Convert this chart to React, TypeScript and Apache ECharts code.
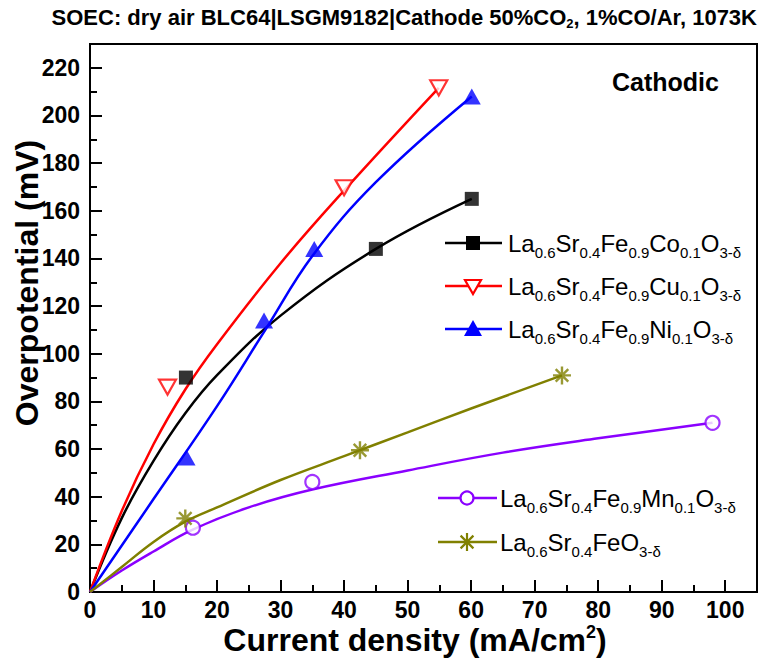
import React, { useEffect, useRef } from 'react';
import * as echarts from 'echarts';

const FONT = "'Liberation Sans', Arial, Helvetica, sans-serif";

// Axis settings
const X_MIN = 0, X_MAX = 105, X_MAJOR = 10, X_MINOR = 5;
const Y_MIN = 0, Y_MAX = 230, Y_MAJOR = 20, Y_MINOR = 10;

// Measured points (markers)
const coX = [15.1, 45, 60.1];
const coY = [90, 144, 165];
const cuX = [12.2, 40, 54.9];
const cuY = [86, 169.7, 211.6];
const niX = [15.2, 27.4, 35.3, 60.1];
const niY = [56.5, 114, 144, 208];
const mnX = [16.2, 35, 98];
const mnY = [27, 46.2, 71];
const feX = [15, 42.5, 74.3];
const feY = [30.9, 59.5, 90.9];

// Fitted curves
const coFitX = [0, 5, 10, 15, 20, 30, 45, 60.1];
const coFitY = [0, 31, 55, 75, 91, 116, 144, 165];
const cuFitX = [0, 5, 10, 15, 20, 30, 40, 54.9];
const cuFitY = [0, 34, 62, 85, 104, 138, 168.5, 211.6];
const niFitX = [0, 10, 20, 27.6, 35, 45, 60.1];
const niFitY = [0, 39, 78, 110, 141, 172, 208];
const mnFitX = [0, 5, 10, 16, 25, 35, 50, 65, 80, 98];
const mnFitY = [0, 9, 17, 26, 35.5, 43, 51, 58.5, 64.5, 71];
const feFitX = [0, 5, 10, 15, 20, 30, 40, 50, 60, 74.3];
const feFitY = [0, 10.5, 21, 29.5, 35.5, 47, 57, 67, 77, 90.9];

const zip = (xs: number[], ys: number[]) => xs.map((x, i) => [x, ys[i]]);

const BLACK = '#000000';
const RED = '#ff0000';
const BLUE = '#0000ff';
const PURPLE = '#8a00ff';
const OLIVE = '#808000';

const STAR_PATH = 'path://M10,0 L10,20 M0,10 L20,10 M3,3 L17,17 M3,17 L17,3';

const legendRich = {
  m: { fontSize: 24, fontFamily: FONT, color: '#000' },
  s: { fontSize: 15, fontFamily: FONT, color: '#000', padding: [18, 0, 0, 0] },
};

function legendMarker(kind: string, color: string, cx: number, cy: number): any {
  if (kind === 'square') {
    return { type: 'rect', shape: { x: cx - 7, y: cy - 7, width: 14, height: 14 }, style: { fill: color } };
  }
  if (kind === 'tridown') {
    return {
      type: 'polygon',
      shape: { points: [[cx - 8, cy - 6], [cx + 8, cy - 6], [cx, cy + 8]] },
      style: { fill: '#fff', stroke: color, lineWidth: 2.2 },
    };
  }
  if (kind === 'triup') {
    return {
      type: 'polygon',
      shape: { points: [[cx - 9, cy + 7], [cx + 9, cy + 7], [cx, cy - 9]] },
      style: { fill: color },
    };
  }
  if (kind === 'circle') {
    return { type: 'circle', shape: { cx, cy, r: 6.5 }, style: { fill: '#fff', stroke: color, lineWidth: 2.2 } };
  }
  const r = 9;
  const d = 6.4;
  return {
    type: 'group',
    children: [
      { type: 'line', shape: { x1: cx, y1: cy - r, x2: cx, y2: cy + r }, style: { stroke: color, lineWidth: 2.2 } },
      { type: 'line', shape: { x1: cx - d, y1: cy - d, x2: cx + d, y2: cy + d }, style: { stroke: color, lineWidth: 2.2 } },
      { type: 'line', shape: { x1: cx - d, y1: cy + d, x2: cx + d, y2: cy - d }, style: { stroke: color, lineWidth: 2.2 } },
    ],
  };
}

function legendEntry(x1: number, x2: number, mx: number, tx: number, y: number, color: string, kind: string, text: string): any[] {
  return [
    { type: 'line', shape: { x1, y1: y, x2, y2: y }, style: { stroke: color, lineWidth: 2.5 }, z: 10 },
    { ...legendMarker(kind, color, mx, y), z: 11 },
    {
      type: 'text',
      x: tx,
      y,
      z: 11,
      style: { text, rich: legendRich, align: 'left', verticalAlign: 'middle' },
    },
  ];
}

export default function App() {
  const ref = useRef<HTMLDivElement>(null);
  useEffect(() => {
    if (!ref.current) return;
    const chart = echarts.init(ref.current, null, { renderer: 'svg' });

    const fitLine = (xs: number[], ys: number[], color: string) => ({
      type: 'line',
      data: zip(xs, ys),
      smooth: 0.4,
      showSymbol: false,
      symbol: 'none',
      silent: true,
      lineStyle: { color, width: 2.5 },
      z: 2,
    });

    const option: any = {
      animation: false,
      backgroundColor: '#fff',
      grid: { left: 90, top: 44, right: 10, bottom: 68, show: true, borderColor: '#000', borderWidth: 2, backgroundColor: 'transparent' },
      xAxis: [
        {
          type: 'value', min: X_MIN, max: X_MAX, interval: X_MAJOR, position: 'bottom',
          axisLine: { show: true, lineStyle: { color: '#000', width: 2 } },
          axisTick: { show: true, inside: true, length: 12, lineStyle: { color: '#000', width: 2 } },
          axisLabel: { showMaxLabel: false, color: '#000', fontFamily: FONT, fontWeight: 'bold', fontSize: 23, margin: 6 },
          splitLine: { show: false },
        },
        {
          type: 'value', min: X_MIN, max: X_MAX, interval: X_MINOR, position: 'bottom', offset: 0,
          axisLine: { show: false },
          axisTick: { show: true, inside: true, length: 7, lineStyle: { color: '#000', width: 2 } },
          axisLabel: { show: false },
          splitLine: { show: false },
        },
      ],
      yAxis: [
        {
          type: 'value', min: Y_MIN, max: Y_MAX, interval: Y_MAJOR, position: 'left',
          axisLine: { show: true, lineStyle: { color: '#000', width: 2 } },
          axisTick: { show: true, inside: true, length: 12, lineStyle: { color: '#000', width: 2 } },
          axisLabel: { showMaxLabel: false, color: '#000', fontFamily: FONT, fontWeight: 'bold', fontSize: 23, margin: 10 },
          splitLine: { show: false },
        },
        {
          type: 'value', min: Y_MIN, max: Y_MAX, interval: Y_MINOR, position: 'left', offset: 0,
          axisLine: { show: false },
          axisTick: { show: true, inside: true, length: 7, lineStyle: { color: '#000', width: 2 } },
          axisLabel: { show: false },
          splitLine: { show: false },
        },
      ],
      series: [
        fitLine(coFitX, coFitY, BLACK),
        fitLine(cuFitX, cuFitY, RED),
        fitLine(niFitX, niFitY, BLUE),
        fitLine(mnFitX, mnFitY, PURPLE),
        fitLine(feFitX, feFitY, OLIVE),
        {
          type: 'scatter', data: zip(coX, coY), symbol: 'rect', symbolSize: 14,
          itemStyle: { color: BLACK }, z: 3,
        },
        {
          type: 'scatter', data: zip(cuX, cuY), symbol: 'triangle', symbolRotate: 180, symbolSize: [17, 15],
          itemStyle: { color: '#fff', borderColor: RED, borderWidth: 2.2 }, z: 3,
        },
        {
          type: 'scatter', data: zip(niX, niY), symbol: 'triangle', symbolSize: [18, 16],
          itemStyle: { color: BLUE }, z: 3,
        },
        {
          type: 'scatter', data: zip(mnX, mnY), symbol: 'circle', symbolSize: 14,
          itemStyle: { color: '#fff', borderColor: PURPLE, borderWidth: 2.2 }, z: 3,
        },
        {
          type: 'scatter', data: zip(feX, feY), symbol: STAR_PATH, symbolSize: 18,
          itemStyle: { color: 'none', borderColor: OLIVE, borderWidth: 2.4 }, z: 3,
        },
      ],
      graphic: [
        {
          type: 'text', x: 757, y: 17,
          style: {
            text: '{b|SOEC: dry air BLC64|LSGM9182|Cathode 50%CO}{s|2}{b|, 1%CO/Ar, 1073K}',
            align: 'right', verticalAlign: 'middle',
            rich: {
              b: { fontFamily: FONT, fontWeight: 'bold', fontSize: 22, color: '#000' },
              s: { fontFamily: FONT, fontWeight: 'bold', fontSize: 13, color: '#000', padding: [12, 0, 0, 0] },
            },
          },
        },
        {
          type: 'text', x: 612, y: 82,
          style: { text: 'Cathodic', fontFamily: FONT, fontWeight: 'bold', fontSize: 25, fill: '#000', align: 'left', verticalAlign: 'middle' },
        },
        {
          type: 'text', x: 27, y: 283, rotation: Math.PI / 2,
          style: { text: 'Overpotential (mV)', fontFamily: FONT, fontWeight: 'bold', fontSize: 32, fill: '#000', align: 'center', verticalAlign: 'middle' },
        },
        {
          type: 'text', x: 415, y: 640,
          style: {
            text: '{b|Current density (mA/cm}{p|2}{b|)}',
            align: 'center', verticalAlign: 'middle',
            rich: {
              b: { fontFamily: FONT, fontWeight: 'bold', fontSize: 32, color: '#000' },
              p: { fontFamily: FONT, fontWeight: 'bold', fontSize: 18, color: '#000', padding: [0, 0, 16, 0] },
            },
          },
        },
        ...legendEntry(445, 502, 473, 508, 243, BLACK, 'square', '{m|La}{s|0.6}{m|Sr}{s|0.4}{m|Fe}{s|0.9}{m|Co}{s|0.1}{m|O}{s|3-δ}'),
        ...legendEntry(445, 502, 473, 508, 286, RED, 'tridown', '{m|La}{s|0.6}{m|Sr}{s|0.4}{m|Fe}{s|0.9}{m|Cu}{s|0.1}{m|O}{s|3-δ}'),
        ...legendEntry(445, 502, 473, 508, 329, BLUE, 'triup', '{m|La}{s|0.6}{m|Sr}{s|0.4}{m|Fe}{s|0.9}{m|Ni}{s|0.1}{m|O}{s|3-δ}'),
        ...legendEntry(438, 497, 467, 500, 498, PURPLE, 'circle', '{m|La}{s|0.6}{m|Sr}{s|0.4}{m|Fe}{s|0.9}{m|Mn}{s|0.1}{m|O}{s|3-δ}'),
        ...legendEntry(438, 497, 467, 500, 542, OLIVE, 'star', '{m|La}{s|0.6}{m|Sr}{s|0.4}{m|FeO}{s|3-δ}'),
      ],
    };

    chart.setOption(option);
    return () => chart.dispose();
  }, []);

  return (
    <div
      ref={ref}
      style={{ position: 'absolute', left: 0, top: 0, width: 767, height: 660, background: '#fff' }}
    />
  );
}
